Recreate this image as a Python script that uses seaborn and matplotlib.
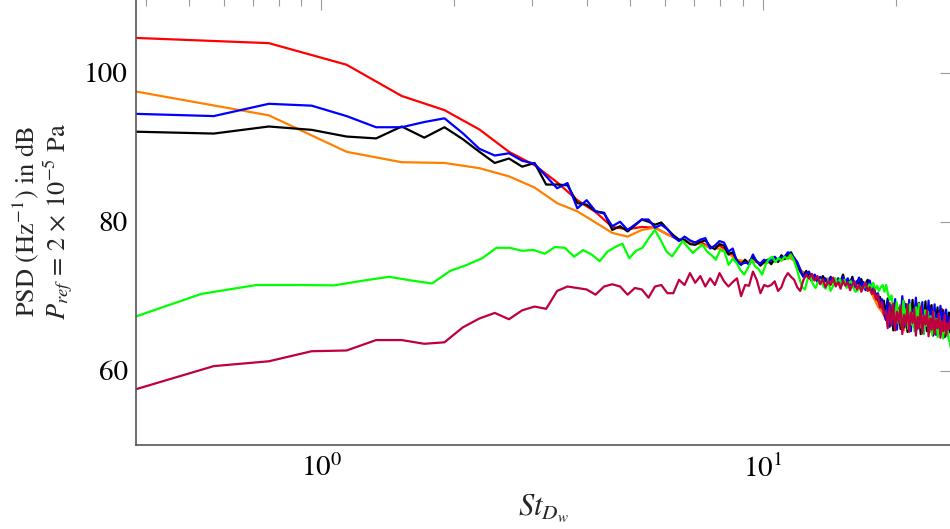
import numpy as np
import pandas as pd
import matplotlib
matplotlib.use("Agg")
import matplotlib.pyplot as plt
import seaborn as sns
from matplotlib.ticker import LogLocator, NullFormatter, FixedLocator

# ---------------- data ----------------
# frequency grids (Strouhal number), uniform spacing per series
df_fine = 0.19      # blue, black, crimson
df_coarse = 0.38    # red, orange
df_green = 0.178    # green

k_fine = np.arange(2, 141)
k_coarse = np.arange(1, 71)
k_green = np.arange(2, 151)

st_fine = k_fine * df_fine
st_coarse = k_coarse * df_coarse
st_green = k_green * df_green

red_psd = [104.7, 104.0, 101.1, 96.9, 95.0, 92.4, 89.4, 87.6, 85.3, 82.9,
           81.3, 79.3, 79.0, 79.3, 79.2, 78.3, 77.6, 77.2, 77.3, 76.5,
           76.8, 76.0, 74.8, 74.5, 75.0, 74.3, 74.7, 74.9, 75.0, 75.5,
           75.2, 73.5, 72.9, 72.5, 72.3, 72.2, 71.9, 72.3, 71.8, 72.0,
           71.6, 72.2, 71.2, 71.7, 70.9, 71.4, 70.0, 69.3, 68.1,
           66.9, 69.1, 65.8, 68.6, 66.4, 69.3, 65.6, 68.2, 66.8, 69.0,
           65.3, 67.9, 66.5, 68.7, 65.1, 67.6, 66.0, 68.3, 64.8, 67.2, 65.9]

orange_psd = [97.5, 94.3, 89.4, 88.0, 87.9, 87.2, 86.1, 84.6, 82.5, 81.4,
              79.9, 78.5, 78.0, 78.9, 79.2, 78.3, 77.6, 77.2, 77.0, 76.5,
              76.4, 75.7, 74.9, 74.7, 74.7, 74.4, 74.5, 74.7, 74.8, 75.2,
              74.8, 73.6, 72.6, 72.9, 72.2, 71.9, 72.4, 71.8, 72.0, 72.3,
              71.5, 71.9, 71.4, 71.9, 71.2, 70.8, 69.7, 68.6, 67.9,
              67.8, 65.9, 68.9, 66.3, 68.4, 65.4, 67.9, 66.9, 68.8, 65.7,
              68.1, 66.2, 67.5, 65.2, 68.0, 66.4, 67.3, 64.9, 67.6, 65.5, 66.6]

blue_psd = [94.5, 94.2, 95.85, 95.6, 94.2, 92.7, 92.7, 93.4, 93.9, 91.9,
            89.8, 88.9, 89.2, 88.2, 87.8, 86.1, 84.5, 85.2, 81.8, 82.9,
            81.4, 81.1, 79.4, 80.0, 78.9, 79.6, 80.3, 80.3, 79.2, 79.6,
            79.0, 78.0, 77.4, 78.0, 77.5, 77.2, 77.6, 77.8, 76.4, 76.8,
            77.4, 77.2, 76.0, 76.4, 74.6, 74.3, 74.5, 74.4, 75.6, 74.6,
            74.4, 74.9, 74.6, 74.8, 75.3, 74.8, 75.2, 75.3, 75.9, 75.6,
            75.1, 74.6, 73.6, 72.6, 73.1, 73.3, 72.2, 72.9, 71.9, 72.6,
            72.0, 72.4, 71.6, 72.5, 72.2, 71.5, 72.3, 71.7, 72.6,
            71.9, 72.4, 71.5, 72.3, 71.2, 71.8, 72.5, 71.1, 71.9, 70.8,
            71.6, 72.1, 70.7, 71.3, 69.8, 70.4, 68.9, 69.6, 68.2,
            66.8, 69.4, 65.9, 68.8, 66.2, 69.6, 65.5, 68.4, 66.9, 70.0,
            65.8, 68.9, 66.4, 69.5, 65.3, 68.2, 67.0, 69.8, 65.6, 68.6,
            66.1, 69.2, 65.0, 67.9, 66.6, 69.4, 65.4, 68.3, 66.0, 68.9,
            64.8, 67.6, 66.2, 68.7, 64.9, 67.8, 65.5, 68.2, 64.6, 67.1,
            65.8]

black_psd = [92.1, 91.85, 92.8, 92.35, 91.45, 91.2, 92.8, 91.3, 92.7, 91.1,
             89.4, 87.9, 88.5, 87.4, 87.9, 85.0, 85.0, 84.9, 82.5, 82.3,
             81.4, 81.2, 78.9, 79.4, 78.7, 79.5, 80.3, 80.0, 79.6, 79.9,
             79.0, 78.2, 77.6, 77.6, 77.0, 76.9, 77.3, 77.5, 76.7, 76.3,
             77.0, 76.8, 75.6, 75.9, 74.8, 74.2, 74.9, 74.2, 75.3, 74.7,
             74.1, 74.6, 74.9, 74.3, 75.0, 74.6, 75.5, 75.0, 75.7, 75.9,
             75.0, 74.2, 73.3, 72.7, 73.4, 72.6, 72.0, 72.8, 72.3, 71.8,
             72.7, 72.1, 71.7, 72.6, 72.0, 71.6, 72.4, 72.0, 72.9, 71.6,
             72.2, 71.8, 72.6, 71.4, 72.0, 71.6, 72.3, 71.2, 71.7, 72.2,
             70.9, 71.5, 70.9, 70.2, 69.5, 69.9, 68.8, 69.4,
             67.5, 69.7, 66.0, 68.5, 65.4, 69.2, 66.7, 68.1, 65.6, 69.6,
             66.3, 68.9, 65.2, 68.0, 67.1, 69.5, 65.8, 68.4, 66.5, 69.1,
             64.9, 67.7, 66.8, 69.3, 65.3, 68.0, 66.0, 68.8, 64.7, 67.4,
             66.4, 68.5, 65.0, 67.6, 65.7, 68.1, 64.5, 66.9, 66.2, 67.8,
             65.1]

crimson_psd = [57.5, 60.6, 61.25, 62.6, 62.7, 64.1, 64.1, 63.6, 63.8, 65.8,
               67.0, 67.75, 66.9, 68.1, 68.6, 68.3, 70.7, 71.3, 71.1, 70.9,
               70.2, 71.3, 71.6, 71.3, 70.2, 71.1, 70.9, 69.8, 71.3, 71.5,
               70.4, 70.4, 72.2, 71.5, 73.1, 71.8, 72.7, 71.3, 72.4, 71.5,
               73.1, 72.0, 71.3, 71.9, 72.4, 70.0, 71.5, 71.4, 73.3, 72.2,
               70.4, 71.5, 71.3, 71.5, 72.0, 70.7, 71.2, 72.4, 73.1, 72.6,
               72.2, 71.2, 70.7, 72.1, 72.9, 72.4, 73.0, 72.1, 72.7, 71.6,
               72.3, 71.2, 72.0, 71.5, 72.5, 71.3, 71.9, 71.0, 72.1, 71.4,
               71.9, 70.8, 71.6, 72.0, 70.9, 71.5, 70.6, 71.3, 71.8, 70.7,
               71.2, 70.3, 70.9, 69.6, 70.2, 68.5, 69.2, 67.6,
               68.0, 65.7, 68.6, 66.1, 69.0, 65.4, 67.9, 66.5, 68.7, 64.9,
               67.5, 66.0, 68.9, 65.2, 67.8, 66.4, 68.3, 64.7, 67.2, 65.8,
               68.6, 65.0, 67.4, 66.2, 68.1, 64.6, 67.0, 65.5, 68.0, 64.9,
               66.8, 65.7, 67.7, 64.4, 66.6, 65.3, 67.5, 64.8, 66.3, 65.6,
               66.9]

green_psd = [66.7, 70.3, 71.5, 71.5, 71.45, 72.1, 72.6, 72.1, 71.7, 73.4,
             74.2, 75.1, 76.5, 76.5, 76.1, 76.2, 75.7, 76.6, 76.5, 75.3,
             76.2, 75.6, 74.7, 76.0, 76.6, 77.05, 75.1, 76.1, 76.5, 77.8,
             78.9, 77.5, 76.0, 75.35, 76.4, 77.4, 76.6, 75.8, 76.4, 76.9,
             76.0, 75.5, 74.9, 76.2, 76.0, 74.2, 75.0, 74.5, 73.5, 72.9,
             73.8, 74.9, 74.0,
             73.6, 72.9, 74.2, 75.0, 75.3, 74.6, 75.1, 74.8, 75.3, 75.0,
             75.6, 74.9, 73.8, 72.4, 71.2, 70.9, 72.3, 72.7, 71.6, 71.1,
             71.9, 72.2, 71.4, 71.0, 72.1, 70.7, 71.3, 72.4, 71.7, 72.3,
             71.5, 72.2, 71.1, 71.8, 72.0, 71.2, 70.6, 70.7, 71.4, 70.9,
             71.1, 71.8, 70.8, 71.6, 71.1, 71.8, 70.9, 71.4, 70.7, 71.2,
             71.5, 70.6, 71.5, 70.2, 69.5, 70.1,
             68.0, 66.9, 69.2, 66.4, 68.8, 65.9, 69.4, 66.8, 68.3, 65.6,
             68.9, 66.2, 67.7, 65.3, 68.5, 66.6, 69.0, 65.8, 67.4, 64.9,
             68.1, 66.0, 67.9, 65.2, 67.3, 64.8, 67.8, 65.6, 66.9, 64.5,
             67.4, 65.1, 66.5, 64.3, 66.8, 65.0, 65.9, 64.4, 63.8, 63.0]

series = [
    ("red", st_coarse, red_psd),
    ("orange", st_coarse, orange_psd),
    ("black", st_fine, black_psd),
    ("blue", st_fine, blue_psd),
    ("green", st_green, green_psd),
    ("crimson", st_fine, crimson_psd),
]
colors = {"red": "#ff0000", "orange": "#ff8000", "black": "#000000",
          "blue": "#0000ff", "green": "#00ff00", "crimson": "#bf0040"}

frames = []
for name, st, psd in series:
    n = min(len(st), len(psd))
    frames.append(pd.DataFrame({"St": st[:n], "PSD": psd[:n], "case": name}))
data = pd.concat(frames, ignore_index=True)

# ---------------- plot ----------------
sns.set_theme(style="white")
plt.rcParams["font.family"] = ["STIXGeneral", "DejaVu Serif"]
plt.rcParams["mathtext.fontset"] = "stix"

fig = plt.figure(figsize=(9.5, 5.29), dpi=100)
ax = fig.add_axes([136 / 950, 84 / 529, 815 / 950, 446.5 / 529])

sns.lineplot(data=data, x="St", y="PSD", hue="case",
             hue_order=[s[0] for s in series], palette=colors,
             estimator=None, sort=True, legend=False, linewidth=1.6, ax=ax)

ax.set_xscale("log")
ax.set_xlim(0.38, 26.7)
ax.set_ylim(50, 110)
ax.yaxis.set_major_locator(FixedLocator([60, 80, 100]))
ax.xaxis.set_major_locator(LogLocator(base=10))
ax.xaxis.set_minor_locator(LogLocator(base=10, subs=np.arange(2, 10)))
ax.xaxis.set_minor_formatter(NullFormatter())

tick_col = "#9a9a9a"
ax.tick_params(which="both", direction="in", top=True, right=True,
               color=tick_col, width=0.8, labelsize=21, labelcolor="black")
ax.tick_params(which="major", length=8)
ax.tick_params(which="minor", length=5)
ax.tick_params(axis="x", pad=7)
ax.tick_params(axis="y", pad=6)
for sp in ax.spines.values():
    sp.set_color("#555555")
    sp.set_linewidth(1.2)

ax.set_ylabel("PSD (Hz$^{-1}$) in dB\n$P_{ref}$ = 2 $\\times$ 10$^{-5}$ Pa",
              fontsize=19, linespacing=1.0)
ax.yaxis.set_label_coords(-0.075, 0.5)
ax.set_xlabel("$St_{D_w}$", fontsize=22)
ax.xaxis.set_label_coords(0.5, -0.105)

fig.savefig("out.png", dpi=100)
